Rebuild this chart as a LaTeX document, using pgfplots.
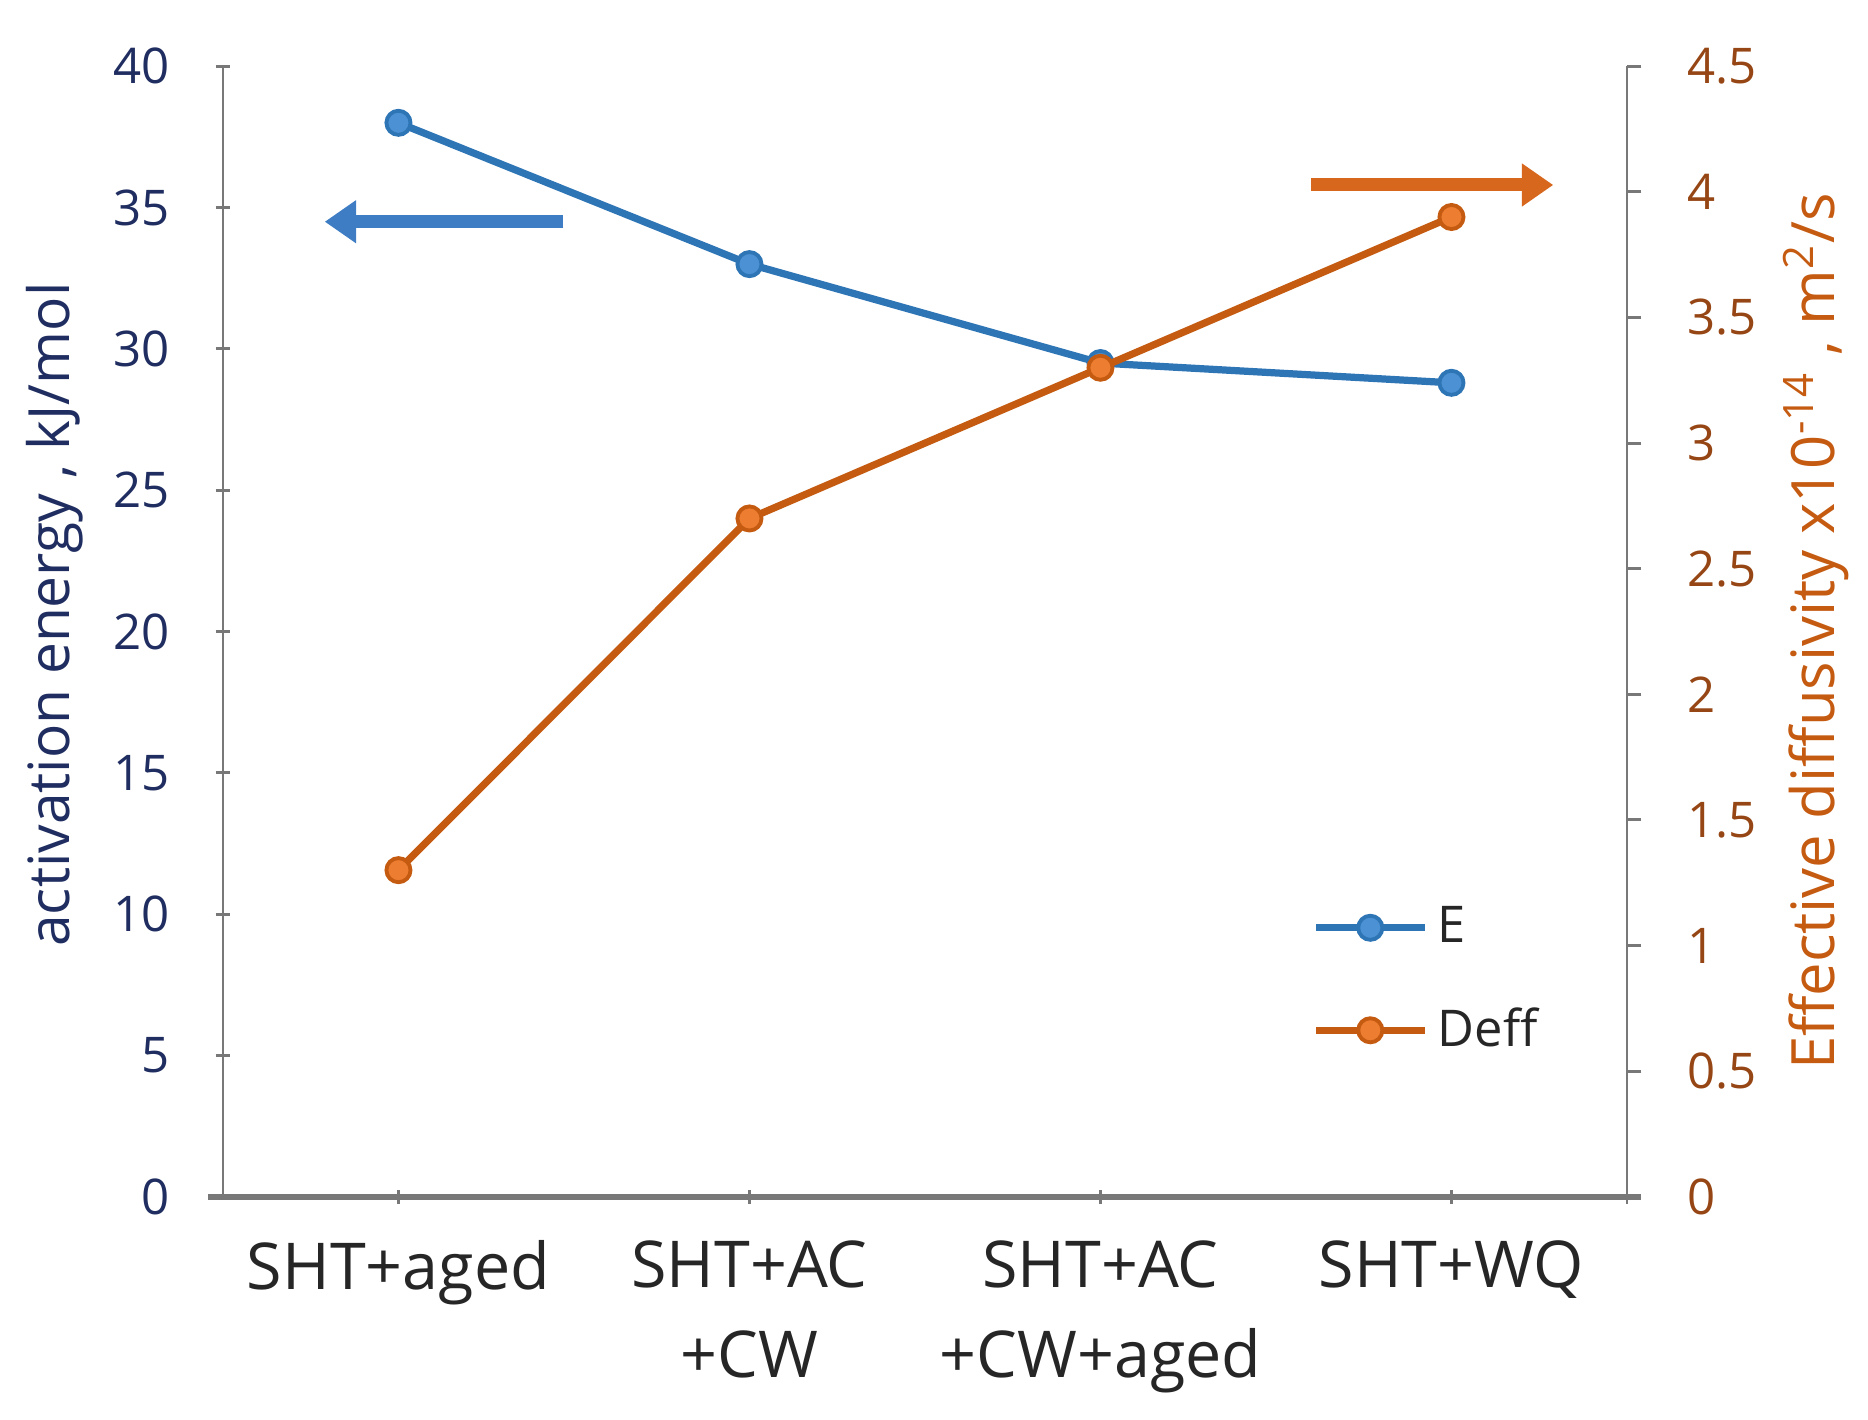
\documentclass[border=0pt]{standalone}
\usepackage{pgfplots}
\pgfplotsset{compat=1.18}
\usepackage{fontspec}
\setmainfont{Open Sans}
\usetikzlibrary{arrows.meta}
\definecolor{eblue}{RGB}{46,117,182}
\definecolor{eblueF}{RGB}{75,145,212}
\definecolor{dorange}{RGB}{197,90,17}
\definecolor{dorangeF}{RGB}{237,125,49}
\definecolor{navy}{RGB}{31,45,96}
\definecolor{rbrown}{RGB}{150,70,20}
\definecolor{rlabel}{RGB}{197,90,17}
\definecolor{axgray}{RGB}{120,120,120}
\definecolor{arrblue}{RGB}{62,125,196}
\definecolor{arrorange}{RGB}{216,103,30}
\begin{document}
\begin{tikzpicture}
\pgfplotsset{
  base/.style={scale only axis, width=291.25pt, height=234.5pt, xmin=-0.5, xmax=3.5,
    /pgf/number format/assume math mode=true, tick align=outside, major tick length=3pt, clip=false,
    tick style={axgray, line width=0.6pt}},
}
\begin{axis}[base, name=ax1,
  ymin=0, ymax=40, ytick={0,5,10,15,20,25,30,35,40},
  axis x line=bottom, axis y line=left, axis line style={-},
  x axis line style={axgray, line width=1.2pt, shorten <=-3pt, shorten >=-3pt},
  y axis line style={axgray, line width=0.6pt},
  xtick={0,1,2,3},
  xticklabels={SHT+aged,{SHT+AC\\+CW},{SHT+AC\\+CW+aged},SHT+WQ},
  x tick label style={align=center, font=\fontsize{13.4}{18.75}\selectfont, text=black!85, yshift=-4pt},
  extra x ticks={3.5}, extra x tick labels={},
  y tick label style={font=\fontsize{10.2}{12}\selectfont, text=navy, xshift=-6pt},
  ylabel={activation energy , kJ/mol},
  ylabel style={font=\fontsize{11.8}{14}\selectfont, text=navy, at={(axis description cs:-0.12,0.515)}, anchor=center},
]
\addplot[eblue, line width=1.5pt, mark=*, mark size=2.5pt, mark options={fill=eblueF, draw=eblue, line width=0.8pt}]
  coordinates {(0,38) (1,33) (2,29.5) (3,28.8)};
\draw[-{Triangle[width=8.5pt,length=6.5pt]}, line width=2.7pt, arrblue] (axis cs:0.47,34.5) -- (axis cs:-0.21,34.5);
\draw[-{Triangle[width=8.5pt,length=6.5pt]}, line width=2.7pt, arrorange] (axis cs:2.60,35.8) -- (axis cs:3.29,35.8);
\end{axis}
\begin{axis}[base,
  ymin=0, ymax=4.5, ytick={0,0.5,1,1.5,2,2.5,3,3.5,4,4.5},
  axis x line=none, axis y line*=right, axis line style={-},
  y axis line style={axgray, line width=0.6pt},
  y tick label style={font=\fontsize{10.2}{12}\selectfont, text=rbrown, xshift=6pt},
  ylabel={Effective diffusivity x10\textsuperscript{-14} , m\textsuperscript{2}/s},
  ylabel style={font=\fontsize{12.4}{14}\selectfont, text=rlabel, at={(axis description cs:1.135,0.50)}, anchor=center},
  legend style={at={(axis description cs:0.765,0.192)}, anchor=west, draw=none, fill=none,
    font=\fontsize{10.5}{12}\selectfont, text=black!85, row sep=8pt,
    /tikz/every odd column/.append style={inner xsep=0pt}},
  legend cell align=left,
  legend image code/.code={\draw[mark repeat=2,mark phase=2,#1] plot coordinates {(0pt,0pt) (11.25pt,0pt) (22.5pt,0pt)};},
]
\addlegendimage{eblue, line width=1.5pt, mark=*, mark size=2.5pt, mark options={fill=eblueF, draw=eblue, line width=0.8pt}}
\addlegendentry{E}
\addplot[dorange, line width=1.5pt, mark=*, mark size=2.5pt, mark options={fill=dorangeF, draw=dorange, line width=0.8pt}]
  coordinates {(0,1.3) (1,2.7) (2,3.3) (3,3.9)};
\addlegendentry{Deff}
\end{axis}
\pgfresetboundingbox
\path ([shift={(-46.25pt,-46.25pt)}]ax1.south west) rectangle ([shift={(50pt,13.75pt)}]ax1.north east);
\end{tikzpicture}
\end{document}
